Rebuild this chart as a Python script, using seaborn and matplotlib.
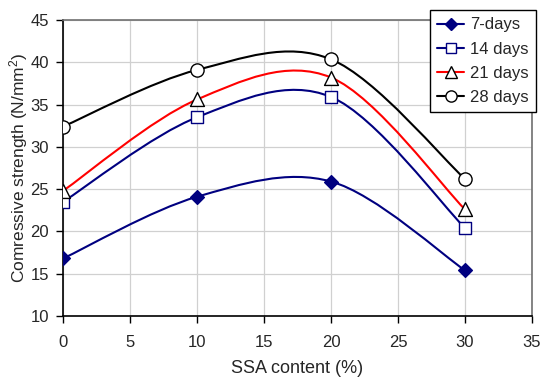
import numpy as np
import pandas as pd
import seaborn as sns
import matplotlib
matplotlib.use("Agg")
import matplotlib.pyplot as plt
from matplotlib.path import Path
from matplotlib.patches import PathPatch
from matplotlib.lines import Line2D

# SSA replacement levels (%)
ssa_content = [0, 10, 20, 30]

# Compressive strength (N/mm2) at each curing age
days_7 = [16.8, 24.1, 25.9, 15.4]
days_14 = [23.5, 33.5, 35.9, 20.4]
days_21 = [24.8, 35.6, 38.2, 22.6]
days_28 = [32.4, 39.1, 40.35, 26.2]

series_names = ["7-days", "14 days", "21 days", "28 days"]
series_values = [days_7, days_14, days_21, days_28]

x_ticks = [0, 5, 10, 15, 20, 25, 30, 35]
y_ticks = [10, 15, 20, 25, 30, 35, 40, 45]

styles = {
    "7-days":  dict(color="#000080", marker="D", mfc="#000080", mec="#000080", ms=7),
    "14 days": dict(color="#000080", marker="s", mfc="white", mec="#000080", ms=8),
    "21 days": dict(color="#ff0000", marker="^", mfc="white", mec="black", ms=10),
    "28 days": dict(color="black", marker="o", mfc="white", mec="black", ms=9.5),
}

sns.set_theme(style="white")
plt.rcParams["font.family"] = ["Liberation Sans", "DejaVu Sans"]
plt.rcParams["mathtext.default"] = "regular"

df = pd.DataFrame(
    [(x, v, name) for name, vals in zip(series_names, series_values)
     for x, v in zip(ssa_content, vals)],
    columns=["ssa", "strength", "age"],
)

fig = plt.figure(figsize=(5.41, 3.81), dpi=100)
ax = fig.add_axes([0.1165, 0.1706, 0.8669, 0.7769])


def smooth_path(xs, ys):
    """Cubic Bezier path through the points (Catmull-Rom style smoothing)."""
    pts = np.column_stack([xs, ys]).astype(float)
    n = len(pts)
    verts = [pts[0]]
    codes = [Path.MOVETO]
    for i in range(n - 1):
        p0 = pts[i - 1] if i > 0 else pts[i]
        p1 = pts[i]
        p2 = pts[i + 1]
        p3 = pts[i + 2] if i + 2 < n else pts[i + 1]
        c1 = p1 + (p2 - p0) / 6.0
        c2 = p2 - (p3 - p1) / 6.0
        verts += [c1, c2, p2]
        codes += [Path.CURVE4] * 3
    return Path(verts, codes)


for name in series_names:
    sub = df[df["age"] == name]
    st = styles[name]
    patch = PathPatch(smooth_path(sub["ssa"].values, sub["strength"].values),
                      facecolor="none", edgecolor=st["color"], lw=1.5, zorder=3)
    ax.add_patch(patch)
    sns.scatterplot(data=sub, x="ssa", y="strength", ax=ax, marker=st["marker"],
                    s=st["ms"] ** 2, color=st["mfc"], edgecolor=st["mec"],
                    linewidth=1.0, zorder=4, legend=False)

ax.set_xlim(0, 35)
ax.set_ylim(10, 45)
ax.set_xticks(x_ticks)
ax.set_yticks(y_ticks)
ax.grid(True, color="#d0d0d0", lw=0.9)
ax.set_axisbelow(True)
ax.tick_params(axis="both", which="major", direction="out", length=5, width=1,
               color="black", labelsize=12, left=True, bottom=True)
ax.tick_params(axis="x", pad=9)
ax.tick_params(axis="y", pad=5)
for side in ["left", "bottom"]:
    ax.spines[side].set_color("black")
    ax.spines[side].set_linewidth(1.2)
for side in ["top", "right"]:
    ax.spines[side].set_color("#707070")
    ax.spines[side].set_linewidth(1.2)

ax.set_xlabel("SSA content (%)", fontsize=13, labelpad=7)
ax.set_ylabel("Comressive strength (N/mm$^{2}$)", fontsize=12.5, labelpad=0.5)

handles = [
    Line2D([], [], color=styles[n]["color"], lw=1.5, marker=styles[n]["marker"],
           markerfacecolor=styles[n]["mfc"], markeredgecolor=styles[n]["mec"],
           markersize=styles[n]["ms"] * 0.85)
    for n in series_names
]
leg = ax.legend(handles, series_names, loc="upper right",
                bbox_to_anchor=(0.991, 0.974), bbox_transform=fig.transFigure,
                fontsize=12, frameon=True, fancybox=False, edgecolor="black",
                framealpha=1, handlelength=1.6, handletextpad=0.36,
                labelspacing=0.55, borderpad=0.45, borderaxespad=0)
leg.get_frame().set_linewidth(1.0)
leg.set_zorder(10)

fig.savefig("out.png", dpi=100)
